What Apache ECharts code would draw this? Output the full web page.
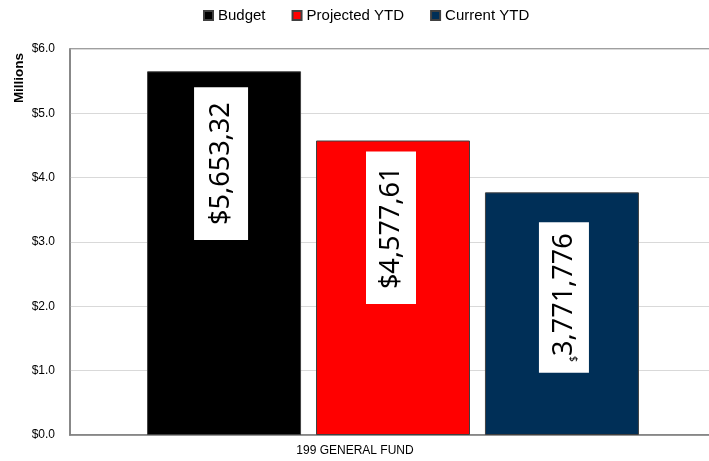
<!DOCTYPE html>
<html>
<head>
<meta charset="utf-8">
<script src="https://cdn.jsdelivr.net/npm/echarts@6/dist/echarts.min.js"></script>
<style>html,body{margin:0;padding:0;background:#fff}#c{width:709px;height:461px}</style>
</head>
<body>
<div id="c"></div>
<script>
var categories = ['199 GENERAL FUND'];
var seriesNames = ['Budget', 'Projected YTD', 'Current YTD'];
var budget = [5.653327];
var projected = [4.577610];
var current = [3.771776];
var barLabels = ['$5,653,32', '$4,577,61', '{s|$}3,771,776'];
var yTicks = ['$0.0', '$1.0', '$2.0', '$3.0', '$4.0', '$5.0', '$6.0'];

var colors = ['#000000', '#FF0000', '#002F57'];
var labelDist = [16, 11, 30];
var labelPad = [[12, 15], [10, 15], [10, 11]];
var labelShift = [[0, -3], [0, -2], [0, 2]];
var values = [budget, projected, current];

var chart = echarts.init(document.getElementById('c'), null, {renderer: 'canvas'});

var series = seriesNames.map(function (name, i) {
  return {
    name: name,
    type: 'bar',
    barWidth: 154,
    barGap: '9.7%',
    itemStyle: {color: colors[i], borderColor: '#404040', borderWidth: 1},
    label: {
      show: true,
      position: 'insideTop',
      distance: labelDist[i],
      offset: labelShift[i],
      rotate: 90,
      align: 'right',
      verticalAlign: 'middle',
      formatter: barLabels[i],
      fontFamily: 'Noto Sans',
      fontSize: 27,
      lineHeight: 30,
      color: '#000',
      backgroundColor: '#fff',
      padding: labelPad[i],
      rich: {s: {fontSize: 10, fontFamily: 'Noto Sans', color: '#000', verticalAlign: 'bottom', lineHeight: 30}}
    },
    data: values[i]
  };
});

chart.setOption({
  animation: false,
  legend: {
    data: seriesNames,
    left: 198,
    top: 3,
    itemWidth: 9,
    itemHeight: 9,
    itemGap: 26,
    icon: 'rect',
    textStyle: {fontFamily: 'Liberation Sans', fontSize: 15, color: '#000'}
  },
  grid: {
    left: 70, width: 646, top: 49, bottom: 26,
    outerBoundsMode: 'none',
    show: true, borderColor: '#808080', borderWidth: 1.5, backgroundColor: 'transparent'
  },
  graphic: [{
    type: 'text',
    x: 19, y: 78,
    rotation: Math.PI / 2,
    style: {text: 'Millions', fontFamily: 'Liberation Sans', fontWeight: 'bold', fontSize: 13.5, fill: '#000', align: 'center', verticalAlign: 'middle'}
  }],
  xAxis: {
    type: 'category',
    data: categories,
    axisLine: {lineStyle: {color: '#808080', width: 1.5}},
    axisTick: {show: false},
    axisLabel: {fontFamily: 'Liberation Sans', fontSize: 12, color: '#000', margin: 10, padding: [0, 76, 0, 0]}
  },
  yAxis: {
    type: 'value',
    min: 0, max: 6, interval: 1,
    axisLine: {show: true, lineStyle: {color: '#808080', width: 1.5}},
    axisTick: {show: false},
    splitLine: {lineStyle: {color: '#D9D9D9', width: 1}},
    axisLabel: {
      fontFamily: 'Liberation Sans', fontSize: 12, color: '#000', margin: 15,
      formatter: function (v) { return yTicks[Math.round(v)]; }
    }
  },
  series: series
});
</script>
</body>
</html>
